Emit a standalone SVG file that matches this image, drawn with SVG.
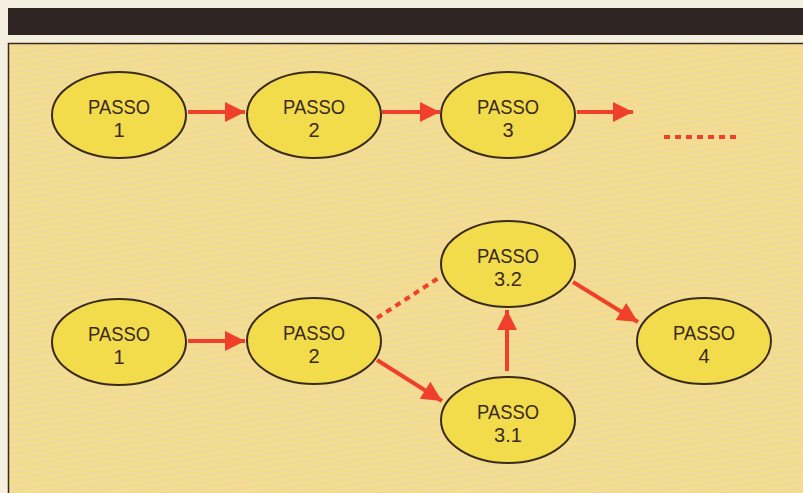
<svg xmlns="http://www.w3.org/2000/svg" width="803" height="493" viewBox="0 0 803 493">
  <style>
    .node ellipse { fill: #f3dc4c; stroke: #3a2a1e; stroke-width: 2; }
    .node text { font-family: "Liberation Sans", Arial, sans-serif; font-size: 20px; fill: #3a2a1e; text-anchor: middle; }
    .edge { stroke: #f0402c; stroke-width: 4; fill: none; }
    .dotted { stroke: #f0402c; stroke-width: 4; fill: none; stroke-dasharray: 6 5; }
  </style>
  <defs>
    <marker id="arrow" viewBox="0 0 10 10" refX="10" refY="5" markerWidth="5.5" markerHeight="5" orient="auto" markerUnits="strokeWidth">
      <path d="M0,0 L10,5 L0,10 Z" fill="#f0402c"/>
    </marker>
    <pattern id="stripes" width="8" height="6" patternUnits="userSpaceOnUse" patternTransform="rotate(-8)">
      <rect width="8" height="6" fill="#f1df8e"/>
      <rect y="0" width="8" height="2.5" fill="#f3d79c"/>
    </pattern>
  </defs>

  <rect x="0" y="0" width="803" height="493" fill="#f5efdf"/>
  <rect x="8" y="8" width="800" height="27" fill="#2f2523"/>
  <rect x="8.5" y="43.5" width="800" height="460" fill="url(#stripes)" stroke="#3a2a1e" stroke-width="1.5"/>

  <g id="connectors">
    <line class="edge" x1="188" y1="112" x2="245" y2="112" marker-end="url(#arrow)"/>
    <line class="edge" x1="382" y1="112" x2="440" y2="112" marker-end="url(#arrow)"/>
    <line class="edge" x1="577" y1="112" x2="633" y2="112" marker-end="url(#arrow)"/>
    <line class="dotted" x1="664" y1="137" x2="737" y2="137"/>
    <line class="edge" x1="188" y1="341" x2="245" y2="341" marker-end="url(#arrow)"/>
    <line class="dotted" x1="377" y1="318" x2="440" y2="277"/>
    <line class="edge" x1="377" y1="360" x2="442" y2="401" marker-end="url(#arrow)"/>
    <line class="edge" x1="507" y1="371" x2="507" y2="310" marker-end="url(#arrow)"/>
    <line class="edge" x1="573" y1="282" x2="638" y2="322" marker-end="url(#arrow)"/>
  </g>

  <g id="top-passo-1" class="node">
    <ellipse cx="119" cy="115" rx="67" ry="43"/>
    <text x="119" y="114" textLength="62" lengthAdjust="spacingAndGlyphs">PASSO</text>
    <text x="119" y="137">1</text>
  </g>
  <g id="top-passo-2" class="node">
    <ellipse cx="314" cy="115" rx="67" ry="43"/>
    <text x="314" y="114" textLength="62" lengthAdjust="spacingAndGlyphs">PASSO</text>
    <text x="314" y="137">2</text>
  </g>
  <g id="top-passo-3" class="node">
    <ellipse cx="508" cy="115" rx="67" ry="43"/>
    <text x="508" y="114" textLength="62" lengthAdjust="spacingAndGlyphs">PASSO</text>
    <text x="508" y="137">3</text>
  </g>

  <g id="bottom-passo-1" class="node">
    <ellipse cx="119" cy="342" rx="67" ry="43"/>
    <text x="119" y="341" textLength="62" lengthAdjust="spacingAndGlyphs">PASSO</text>
    <text x="119" y="364">1</text>
  </g>
  <g id="bottom-passo-2" class="node">
    <ellipse cx="314" cy="341" rx="67" ry="43"/>
    <text x="314" y="340" textLength="62" lengthAdjust="spacingAndGlyphs">PASSO</text>
    <text x="314" y="363">2</text>
  </g>
  <g id="passo-3-2" class="node">
    <ellipse cx="508" cy="264" rx="67" ry="43"/>
    <text x="508" y="263" textLength="62" lengthAdjust="spacingAndGlyphs">PASSO</text>
    <text x="508" y="286">3.2</text>
  </g>
  <g id="passo-3-1" class="node">
    <ellipse cx="508" cy="420" rx="67" ry="43"/>
    <text x="508" y="419" textLength="62" lengthAdjust="spacingAndGlyphs">PASSO</text>
    <text x="508" y="442">3.1</text>
  </g>
  <g id="passo-4" class="node">
    <ellipse cx="704" cy="341" rx="67" ry="43"/>
    <text x="704" y="340" textLength="62" lengthAdjust="spacingAndGlyphs">PASSO</text>
    <text x="704" y="363">4</text>
  </g>
</svg>
